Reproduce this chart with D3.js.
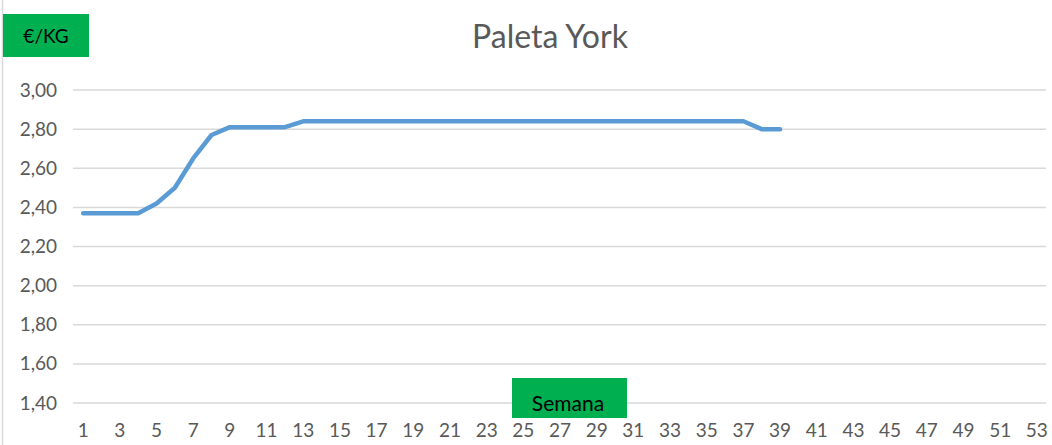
<!DOCTYPE html>
<html>
<head>
<meta charset="utf-8">
<script src="https://d3js.org/d3.v7.min.js"></script>
<style>
  body { margin: 0; background: #fff; }
  text { font-family: Lato, "Open Sans", sans-serif; }
</style>
</head>
<body>
<div id="chart"></div>
<script>
const weeks = d3.range(1, 54);
const prices = [2.37, 2.37, 2.37, 2.37, 2.42, 2.50, 2.65, 2.77, 2.81, 2.81,
  2.81, 2.81, 2.84, 2.84, 2.84, 2.84, 2.84, 2.84, 2.84, 2.84,
  2.84, 2.84, 2.84, 2.84, 2.84, 2.84, 2.84, 2.84, 2.84, 2.84,
  2.84, 2.84, 2.84, 2.84, 2.84, 2.84, 2.84, 2.80, 2.80];
const yTicks = [1.4, 1.6, 1.8, 2.0, 2.2, 2.4, 2.6, 2.8, 3.0];
const title = "Paleta York";
const yLabel = "€/KG";
const xLabel = "Semana";

const W = 1052, H = 445;
const margin = { top: 90, right: 6, bottom: 42, left: 74 };
const width = W - margin.left - margin.right;
const height = H - margin.top - margin.bottom;

const svg = d3.select("#chart").append("svg")
  .attr("width", W)
  .attr("height", H);

// left frame edge
svg.append("line")
  .attr("x1", 2.5).attr("x2", 2.5)
  .attr("y1", 0).attr("y2", H)
  .attr("stroke", "#d9d9d9").attr("stroke-width", 1.5);

const g = svg.append("g")
  .attr("transform", `translate(${margin.left}, ${margin.top})`);

const x = d3.scaleBand().domain(weeks).range([0, width]);
const y = d3.scaleLinear().domain([1.4, 3.0]).range([height, 0]);

// gridlines
g.append("g")
  .selectAll("line")
  .data(yTicks).enter()
  .append("line")
    .attr("x1", -1).attr("x2", width)
    .attr("y1", d => y(d)).attr("y2", d => y(d))
    .attr("stroke", "#d9d9d9").attr("stroke-width", 1.5);

const fmt = d => d3.format(".2f")(d).replace(".", ",");

const yAxis = g.append("g")
  .call(d3.axisLeft(y).tickValues(yTicks).tickFormat(fmt).tickSize(0).tickPadding(17));
yAxis.select(".domain").remove();
yAxis.selectAll("text")
  .attr("fill", "#595959").style("font-size", "19px");

const xAxis = g.append("g")
  .attr("transform", `translate(0, ${height})`)
  .call(d3.axisBottom(x).tickValues(weeks.filter(w => w % 2 === 1)).tickSize(0).tickPadding(21));
xAxis.select(".domain").remove();
xAxis.selectAll("text")
  .attr("fill", "#595959").style("font-size", "19px");

// line
const line = d3.line()
  .x((d, i) => x(weeks[i]) + x.bandwidth() / 2)
  .y(d => y(d));

g.append("path")
  .datum(prices)
  .attr("d", line)
  .attr("fill", "none")
  .attr("stroke", "#5b9bd5")
  .attr("stroke-width", 4.5)
  .attr("stroke-linejoin", "round")
  .attr("stroke-linecap", "round");

// title
svg.append("text")
  .attr("x", 550).attr("y", 48)
  .attr("text-anchor", "middle")
  .attr("fill", "#595959")
  .style("font-size", "32px")
  .text(title);

// y label box
svg.append("rect")
  .attr("x", 3).attr("y", 14).attr("width", 86).attr("height", 43)
  .attr("fill", "#00b050");
svg.append("text")
  .attr("x", 46).attr("y", 43)
  .attr("text-anchor", "middle")
  .attr("fill", "#000")
  .style("font-size", "19px")
  .text(yLabel);

// x label box
svg.append("rect")
  .attr("x", 512).attr("y", 378).attr("width", 115).attr("height", 40)
  .attr("fill", "#00b050");
svg.append("text")
  .attr("x", 568).attr("y", 411)
  .attr("text-anchor", "middle")
  .attr("fill", "#000")
  .style("font-size", "21px")
  .text(xLabel);
</script>
</body>
</html>
